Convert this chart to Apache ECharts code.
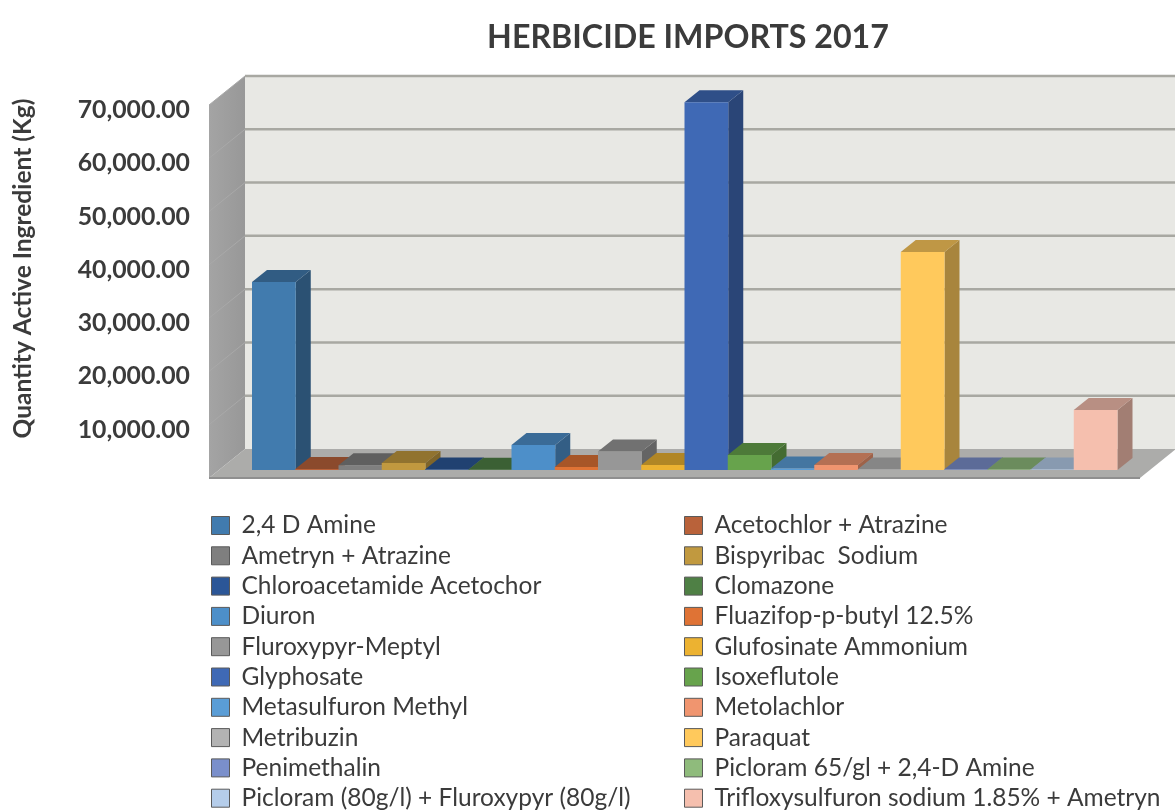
<!DOCTYPE html>
<html>
<head>
<meta charset="utf-8">
<title>Herbicide imports 2017</title>
<style>
  html, body { margin: 0; padding: 0; background: #fff; }
  #chart { width: 1175px; height: 811px; }
</style>
<script src="https://cdn.jsdelivr.net/npm/echarts@6/dist/echarts.min.js"></script>
</head>
<body>
<div id="chart"></div>
<script>
const categories = [
  '2,4 D Amine', 'Acetochlor + Atrazine', 'Ametryn + Atrazine', 'Bispyribac  Sodium',
  'Chloroacetamide Acetochor', 'Clomazone', 'Diuron', 'Fluazifop-p-butyl 12.5%',
  'Fluroxypyr-Meptyl', 'Glufosinate Ammonium', 'Glyphosate', 'Isoxeflutole',
  'Metasulfuron Methyl', 'Metolachlor', 'Metribuzin', 'Paraquat',
  'Penimethalin', 'Picloram 65/gl + 2,4-D Amine', 'Picloram (80g/l) + Fluroxypyr (80g/l)',
  'Trifloxysulfuron sodium 1.85% + Ametryn'
]
const values = [
  35300, 200, 900, 1300,
  100, 50, 4700, 550,
  3450, 950, 69000, 2800,
  300, 950, 100, 40900,
  100, 100, 100, 11250
]
const colors = [
  '#417bae', '#b9623a', '#7f7f7f', '#c1993f',
  '#2b5697', '#4f8045', '#4d8fc9', '#df7335',
  '#979797', '#ecb231', '#3f69b5', '#67a34c',
  '#5a9dd6', '#f0956f', '#b3b3b3', '#ffc95c',
  '#7a8fcb', '#8fbb7c', '#b5cdea', '#f5bfae'
]
const yTicks = [10000, 20000, 30000, 40000, 50000, 60000, 70000]

const textColor = '#3b3b3b'
const fontFamily = 'Lato, "Open Sans", sans-serif'

// how far the walls reach out from the grid, in px
const WALL_LEFT = 33
const WALL_DEPTH = [36, -29]
const BAR_SHIFT = [10, -8]
const BAR_DEPTH = [15, -12]

function shade(color, k) {
  const c = echarts.color.parse(color)
  return `rgb(${Math.round(c[0] * k)},${Math.round(c[1] * k)},${Math.round(c[2] * k)})`
}

function poly(points, fill) {
  return { type: 'polygon', shape: { points }, style: { fill } }
}

function renderWalls(params, api) {
  const g = params.coordSys
  const [dx, dy] = WALL_DEPTH
  const x0 = g.x - WALL_LEFT
  const x1 = g.x + g.width + WALL_LEFT
  const top = g.y
  const bot = g.y + g.height
  return {
    type: 'group',
    children: [
      poly([[x0 + dx, top + dy], [x1 + dx, top + dy], [x1 + dx, bot + dy], [x0 + dx, bot + dy]], '#e8e8e4'),
      {
        type: 'line',
        shape: { x1: x0 + dx, y1: top + dy, x2: x1 + dx, y2: top + dy },
        style: { stroke: '#b4b4b0', lineWidth: 2 }
      },
      {
        type: 'polygon',
        shape: { points: [[x0, top], [x0 + dx, top + dy], [x0 + dx, bot + dy], [x0, bot]] },
        style: {
          fill: new echarts.graphic.LinearGradient(0, 0, 1, 0, [
            { offset: 0, color: '#a4a4a4' },
            { offset: 1, color: '#989898' }
          ])
        }
      },
      poly([[x0, bot], [x0 + dx, bot + dy], [x1 + dx, bot + dy], [x1, bot]], '#acacaa'),
      {
        type: 'line',
        shape: { x1: x0, y1: bot, x2: x1, y2: bot },
        style: { stroke: '#8f8f8f', lineWidth: 2 }
      }
    ]
  }
}

function renderGridLine(params, api) {
  const g = params.coordSys
  const [dx, dy] = WALL_DEPTH
  const y = api.coord([0, api.value(1)])[1]
  const x0 = g.x - WALL_LEFT
  const x1 = g.x + g.width + WALL_LEFT
  return {
    type: 'group',
    children: [
      {
        type: 'line',
        shape: { x1: x0 + dx, y1: y + dy, x2: x1 + dx, y2: y + dy },
        style: { stroke: '#a8a8a2', lineWidth: 2.5 }
      },
      {
        type: 'line',
        shape: { x1: x0, y1: y, x2: x0 + dx, y2: y + dy },
        style: { stroke: '#a9a9a9', lineWidth: 1 }
      }
    ]
  }
}

function renderBar(params, api) {
  const color = colors[api.value(0)]
  const band = api.size([1, 0])[0]
  const base = api.coord([api.value(0), 0])
  const head = api.coord([api.value(0), api.value(1)])
  const l = base[0] - band / 2 + BAR_SHIFT[0]
  const r = l + band + 0.5
  const b = base[1] + BAR_SHIFT[1]
  const t = head[1] + BAR_SHIFT[1]
  const [dx, dy] = BAR_DEPTH
  return {
    type: 'group',
    children: [
      poly([[r, t], [r + dx, t + dy], [r + dx, b + dy], [r, b]], shade(color, 0.66)),
      poly([[l, t], [l + dx, t + dy], [r + dx, t + dy], [r, t]], shade(color, 0.75)),
      poly([[l, t], [r, t], [r, b], [l, b]], color)
    ]
  }
}

const barSeries = categories.map((name, i) => ({
  name,
  type: 'custom',
  renderItem: renderBar,
  encode: { x: 0, y: 1 },
  itemStyle: { color: colors[i] },
  data: [[i, values[i]]],
  silent: true
}))

function makeLegend(left, names) {
  return {
    orient: 'vertical',
    left,
    top: 513,
    height: 330,
    data: names,
    icon: 'rect',
    itemWidth: 18,
    itemHeight: 18,
    itemGap: 5.3,
    selectedMode: false,
    padding: 0,
    itemStyle: { borderColor: '#5a5a5a', borderWidth: 1 },
    textStyle: { color: textColor, fontFamily, fontSize: 24.5, padding: [0, 0, 0, 7], lineHeight: 18 }
  }
}

const chart = echarts.init(document.getElementById('chart'))
chart.setOption({
  backgroundColor: '#fff',
  animation: false,
  title: {
    text: 'HERBICIDE IMPORTS 2017',
    left: 683,
    top: 17,
    textAlign: 'center',
    textStyle: { color: textColor, fontFamily, fontSize: 32.2, fontWeight: 'bold' }
  },
  legend: [
    makeLegend(211, categories.filter((_, i) => i % 2 === 0)),
    makeLegend(684, categories.filter((_, i) => i % 2 === 1))
  ],
  grid: { left: 242, top: 105, width: 865, height: 373 },
  xAxis: {
    type: 'category',
    data: categories,
    axisLine: { show: false },
    axisTick: { show: false },
    axisLabel: { show: false }
  },
  yAxis: {
    type: 'value',
    min: 0,
    max: 70000,
    interval: 10000,
    name: 'Quantity Active Ingredient (Kg)',
    nameLocation: 'middle',
    nameGap: 206,
    nameRotate: 90,
    nameTextStyle: { color: textColor, fontFamily, fontSize: 24.5, fontWeight: 'bold', padding: [0, 0, 0, 46] },
    axisLine: { show: false },
    axisTick: { show: false },
    splitLine: { show: false },
    axisLabel: {
      margin: 52,
      verticalAlign: 'top',
      lineHeight: 10,
      showMinLabel: false,
      color: textColor,
      fontFamily,
      fontSize: 24.8,
      fontWeight: 'bold',
      formatter: v => v.toLocaleString('en-US', { minimumFractionDigits: 2, maximumFractionDigits: 2 })
    }
  },
  series: [
    { type: 'custom', renderItem: renderWalls, encode: { x: 0, y: 1 }, data: [[0, 0]], silent: true },
    { type: 'custom', renderItem: renderGridLine, encode: { x: 0, y: 1 }, data: yTicks.map(v => [0, v]), silent: true },
    ...barSeries
  ]
})
</script>
</body>
</html>
